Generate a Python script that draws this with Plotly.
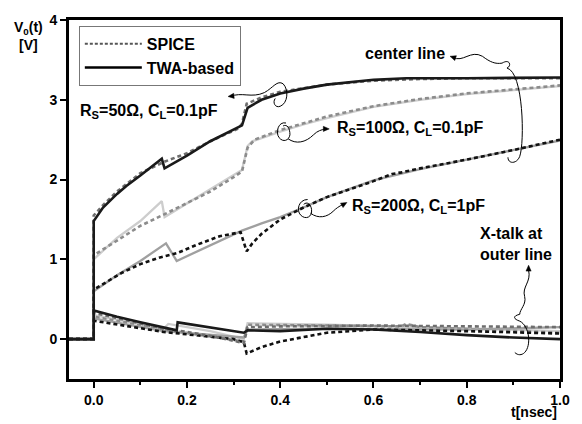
import math
import plotly.graph_objects as go

# ---------------- data ----------------
# Center line, Rs=50 Ohm, CL=0.1pF
t50_twa = [-0.053, 0, 0, 0.02, 0.05, 0.07, 0.1, 0.146, 0.152, 0.2, 0.25, 0.318, 0.33, 0.36, 0.4, 0.45, 0.5, 0.55, 0.6, 0.67, 0.8, 1.0]
v50_twa = [0, 0, 1.48, 1.65, 1.82, 1.92, 2.05, 2.26, 2.14, 2.3, 2.48, 2.68, 2.9, 3.0, 3.08, 3.14, 3.19, 3.22, 3.25, 3.27, 3.27, 3.28]
t50_spice = [-0.053, 0, 0, 0.02, 0.05, 0.1, 0.15, 0.2, 0.25, 0.31, 0.318, 0.328, 0.34, 0.36, 0.4, 0.5, 0.6, 0.7, 0.8, 1.0]
v50_spice = [0, 0, 1.55, 1.68, 1.85, 2.08, 2.22, 2.33, 2.48, 2.64, 2.7, 2.95, 2.98, 3.03, 3.1, 3.19, 3.24, 3.26, 3.27, 3.27]

# Center line, Rs=100 Ohm, CL=0.1pF
t100_twa = [-0.053, 0, 0, 0.05, 0.1, 0.146, 0.152, 0.2, 0.25, 0.3, 0.318, 0.33, 0.34, 0.4, 0.45, 0.5, 0.6, 0.7, 0.8, 0.9, 1.0]
v100_twa = [0, 0, 1.0, 1.27, 1.48, 1.73, 1.53, 1.7, 1.88, 2.05, 2.12, 2.42, 2.48, 2.6, 2.69, 2.77, 2.91, 3.0, 3.07, 3.12, 3.17]
t100_spice = [-0.053, 0, 0, 0.05, 0.1, 0.15, 0.2, 0.25, 0.3, 0.318, 0.33, 0.345, 0.4, 0.5, 0.6, 0.7, 0.8, 0.9, 1.0]
v100_spice = [0, 0, 1.05, 1.24, 1.42, 1.56, 1.7, 1.85, 2.03, 2.1, 2.4, 2.5, 2.62, 2.79, 2.92, 3.01, 3.08, 3.13, 3.18]

# Center line, Rs=200 Ohm, CL=1pF
t200_twa = [-0.053, 0, 0, 0.05, 0.1, 0.155, 0.178, 0.25, 0.318, 0.36, 0.4, 0.45, 0.5, 0.6, 0.7, 0.8, 0.9, 1.0]
v200_twa = [0, 0, 0.6, 0.8, 0.98, 1.2, 0.98, 1.18, 1.36, 1.45, 1.53, 1.65, 1.78, 1.99, 2.13, 2.25, 2.37, 2.49]
t200_spice = [-0.053, 0, 0, 0.03, 0.06, 0.1, 0.14, 0.18, 0.22, 0.27, 0.315, 0.328, 0.34, 0.36, 0.4, 0.45, 0.5, 0.6, 0.64, 0.66, 0.7, 0.8, 0.9, 1.0]
v200_spice = [0, 0, 0.62, 0.73, 0.83, 0.94, 1.02, 1.08, 1.18, 1.29, 1.34, 1.1, 1.2, 1.32, 1.5, 1.65, 1.78, 1.98, 2.07, 2.09, 2.14, 2.25, 2.37, 2.5]

# Crosstalk at outer line
tx50_twa = [-0.053, 0, 0, 0.05, 0.1, 0.15, 0.178, 0.18, 0.25, 0.322, 0.33, 0.4, 0.5, 0.6, 0.7, 0.8, 0.9, 1.0]
vx50_twa = [0, 0, 0.36, 0.28, 0.21, 0.14, 0.11, 0.21, 0.15, 0.08, 0.11, 0.1, 0.13, 0.12, 0.09, 0.05, 0.02, 0.0]
tx50_spice = [-0.053, 0, 0, 0.1, 0.15, 0.2, 0.26, 0.322, 0.33, 0.4, 0.6, 0.8, 1.0]
vx50_spice = [0, 0, 0.33, 0.2, 0.13, 0.09, 0.03, -0.05, 0.15, 0.16, 0.17, 0.16, 0.15]
tx100_twa = [-0.053, 0, 0, 0.15, 0.16, 0.25, 0.322, 0.33, 0.5, 0.7, 1.0]
vx100_twa = [0, 0, 0.3, 0.13, 0.19, 0.1, 0.0, 0.2, 0.18, 0.15, 0.1]
tx100_spice = [-0.053, 0, 0, 0.15, 0.322, 0.33, 0.5, 0.66, 0.67, 0.7, 1.0]
vx100_spice = [0, 0, 0.28, 0.12, -0.03, 0.18, 0.17, 0.16, 0.19, 0.15, 0.08]
tx200_twa = [-0.053, 0, 0, 0.15, 0.322, 0.33, 0.5, 0.8, 1.0]
vx200_twa = [0, 0, 0.26, 0.1, 0.02, 0.12, 0.13, 0.12, 0.15]
tx200_spice = [-0.053, 0, 0, 0.15, 0.3, 0.322, 0.328, 0.36, 0.4, 0.5, 0.6, 0.8, 1.0]
vx200_spice = [0, 0, 0.23, 0.09, 0.0, -0.04, -0.18, -0.1, -0.03, 0.08, 0.12, 0.1, 0.07]

x_ticks = [0.0, 0.2, 0.4, 0.6, 0.8, 1.0]
x_ticklabels = ["0.0", "0.2", "0.4", "0.6", "0.8", "1.0"]
y_ticks = [0, 1, 2, 3, 4]
y_ticklabels = ["0", "1", "2", "3", "4"]

# ---------------- styles ----------------
FONT = "Liberation Sans, Arial, sans-serif"
DASH = "4px,3px"
styles = {
    "50_twa": dict(color="#1a1a1a", width=2.6, dash="solid"),
    "50_spice": dict(color="#6e6e6e", width=2.6, dash=DASH),
    "100_twa": dict(color="#cdcdcd", width=2.3, dash="solid"),
    "100_spice": dict(color="#8c8c8c", width=2.6, dash=DASH),
    "200_twa": dict(color="#a0a0a0", width=2.3, dash="solid"),
    "200_spice": dict(color="#111111", width=2.6, dash=DASH),
}

series = [
    ("100_twa", t100_twa, v100_twa), ("100_spice", t100_spice, v100_spice),
    ("200_twa", t200_twa, v200_twa), ("200_spice", t200_spice, v200_spice),
    ("50_spice", t50_spice, v50_spice), ("50_twa", t50_twa, v50_twa),
    ("100_twa", tx100_twa, vx100_twa), ("100_spice", tx100_spice, vx100_spice),
    ("200_twa", tx200_twa, vx200_twa), ("200_spice", tx200_spice, vx200_spice),
    ("50_spice", tx50_spice, vx50_spice), ("50_twa", tx50_twa, vx50_twa),
]

fig = go.Figure()
for key, t, v in series:
    fig.add_trace(go.Scatter(x=t, y=v, mode="lines", line=styles[key], showlegend=False, hoverinfo="skip"))

# legend entries
fig.add_trace(go.Scatter(x=[None], y=[None], mode="lines", name="<b>SPICE</b>",
                         line=dict(color="#555555", width=2, dash="3px,2px")))
fig.add_trace(go.Scatter(x=[None], y=[None], mode="lines", name="<b>TWA-based</b>",
                         line=dict(color="#000000", width=2.5)))

# plot-area geometry in pixels (for decorations)
L, R, T, B = 69, 569, 13, 379
W, H = R - L, B - T


def px2paper(px, py):
    return (px - L) / W, (B - py) / H


def path(cmds):
    out = []
    for c in cmds:
        if isinstance(c, str):
            out.append(c)
        else:
            x, y = px2paper(*c)
            out.append(f"{x:.4f},{y:.4f}")
    return " ".join(out)


deco_paths = [
    # center line bracket
    ["M", (460, 51), "C", (470, 57), (478, 43), (490, 50), "C", (498, 56), (503, 58), (510, 57),
     "C", (518, 52), (520, 60), (515, 62), "C", (532, 66), (533, 138), (528, 152),
     "C", (525, 160), (516, 160), (516, 153)],
    # Rs50 loop
    ["M", (233, 91), "C", (245, 86), (255, 93), (268, 87), "C", (277, 82), (281, 74), (287, 78),
     "C", (293, 84), (292, 98), (284, 101), "C", (279, 103), (276, 97), (279, 93)],
    # Rs100 loop
    ["M", (290, 118), "C", (282, 116), (279, 128), (283, 133), "C", (287, 138), (293, 136), (294, 130),
     "C", (294, 123), (291, 119), (287, 121), "M", (292, 134), "C", (300, 140), (310, 138), (318, 130),
     "C", (322, 126), (326, 125), (330, 124)],
    # Rs200 loop
    ["M", (312, 196), "C", (303, 196), (300, 207), (305, 212), "C", (310, 217), (317, 214), (316, 206),
     "C", (315, 200), (311, 198), (308, 201), "M", (315, 210), "C", (323, 216), (332, 214), (338, 208),
     "C", (341, 205), (344, 203), (348, 201)],
    # X-talk bracket
    ["M", (537, 268), "C", (540, 280), (530, 285), (533, 295), "C", (535, 303), (528, 308), (528, 313),
     "C", (520, 315), (522, 318), (528, 320), "C", (538, 325), (540, 345), (533, 352),
     "C", (530, 355), (526, 355), (523, 352)],
]
shapes = [dict(type="path", xref="paper", yref="paper", path=path(p),
               line=dict(color="black", width=1)) for p in deco_paths]


def arrowhead(tipx, tipy, dx, dy, length=6, half=2.6):
    # small filled triangle; (dx, dy) points from the tip back toward the tail
    n = math.hypot(dx, dy)
    ux, uy = dx / n, dy / n
    bx, by = tipx + ux * length, tipy + uy * length
    px_, py_ = -uy * half, ux * half
    pts = [(tipx, tipy), (bx + px_, by + py_), (bx - px_, by - py_)]
    shapes.append(dict(type="path", xref="paper", yref="paper",
                       path=path(["M", pts[0], "L", pts[1], "L", pts[2], "Z"]),
                       line=dict(color="black", width=0.5), fillcolor="black"))


arrowhead(457, 50, 9, 3)
arrowhead(231, 91, 9, -1)
arrowhead(334, 124, -8, 0)
arrowhead(352, 199, -7, 4)
arrowhead(537, 263, 0, 9)

annotations = []


def label(text, px, py, xanchor="left", size=16, align="left"):
    x, y = px2paper(px, py)
    annotations.append(dict(text=text, x=x, y=y, xref="paper", yref="paper", xanchor=xanchor,
                            yanchor="middle", showarrow=False, align=align,
                            font=dict(family=FONT, size=size, color="black")))


label("<b>R<sub>S</sub>=50Ω, C<sub>L</sub>=0.1pF</b>", 78, 106)
label("<b>R<sub>S</sub>=100Ω, C<sub>L</sub>=0.1pF</b>", 340, 124)
label("<b>R<sub>S</sub>=200Ω, C<sub>L</sub>=1pF</b>", 355, 203)
label("<b>center line</b>", 368, 47)
label("<b>X-talk at<br>outer line</b>", 486, 241)
label("<b>V<sub>0</sub>(t)<br>[V]</b>", 28, 29, xanchor="center", size=14, align="center")
label("<b>t[nsec]</b>", 568, 413, xanchor="right", size=14)

axis_common = dict(showline=True, linewidth=3, linecolor="black", mirror=True, showgrid=False,
                   zeroline=False, ticks="outside", ticklen=6, tickwidth=2, tickcolor="black",
                   tickfont=dict(family=FONT, size=14, color="black", weight="bold"))

fig.update_layout(
    width=582, height=424,
    margin=dict(l=L, r=582 - R, t=T, b=424 - B),
    paper_bgcolor="white", plot_bgcolor="white",
    xaxis=dict(range=[-0.053, 1.0], tickvals=x_ticks, ticktext=x_ticklabels,
               minor=dict(ticks="outside", ticklen=3, tickwidth=2, tickcolor="black", dtick=0.1, tick0=0),
               **axis_common),
    yaxis=dict(range=[-0.5, 4.0], tickvals=y_ticks, ticktext=y_ticklabels, **axis_common),
    legend=dict(x=px2paper(79, 19)[0], y=px2paper(79, 19)[1], xanchor="left", yanchor="top",
                bordercolor="#777777", borderwidth=1, bgcolor="white",
                font=dict(family=FONT, size=16, color="black"), itemwidth=57,
                tracegroupgap=0),
    shapes=shapes,
    annotations=annotations,
    showlegend=True,
)

fig.write_html("out.html")
